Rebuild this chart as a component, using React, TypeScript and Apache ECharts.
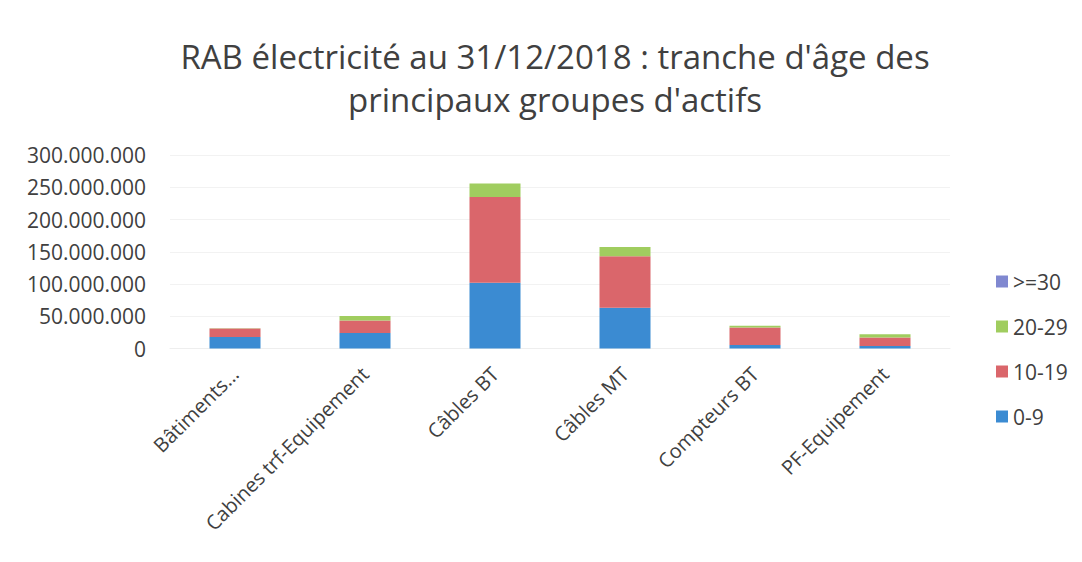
import React, { useEffect, useRef } from "react";
import * as echarts from "echarts";

const categories = [
  "Bâtiments...",
  "Cabines trf-Equipement",
  "Câbles BT",
  "Câbles MT",
  "Compteurs BT",
  "PF-Equipement",
];
const age0to9 = [18000000, 24000000, 102000000, 63000000, 5500000, 4000000];
const age10to19 = [13000000, 19500000, 133000000, 80000000, 27000000, 13000000];
const age20to29 = [500000, 6700000, 21000000, 14500000, 2600000, 5000000];
const age30plus = [0, 0, 0, 0, 0, 0];
const legendOrder = [">=30", "20-29", "10-19", "0-9"];
const yTicks = { min: 0, max: 300000000, interval: 50000000 };

const FONT = "'Open Sans', 'Noto Sans', sans-serif";

function fmt(v: number): string {
  return String(Math.round(v)).replace(/\B(?=(\d{3})+(?!\d))/g, ".");
}

export default function App() {
  const ref = useRef<HTMLDivElement>(null);
  useEffect(() => {
    if (!ref.current) return;
    const chart = echarts.init(ref.current, undefined, { renderer: "svg" });
    const barCommon = { type: "bar" as const, stack: "total", barWidth: 51 };
    chart.setOption({
      animation: false,
      backgroundColor: "#ffffff",
      title: {
        text: "RAB électricité au 31/12/2018 : tranche d'âge des\nprincipaux groupes d'actifs",
        left: 550,
        textAlign: "center",
        top: 30,
        textStyle: {
          fontFamily: FONT,
          fontSize: 33,
          fontWeight: "normal",
          color: "#404040",
          lineHeight: 43,
        },
      },
      legend: {
        orient: "vertical",
        left: 991,
        top: 266,
        itemWidth: 12,
        itemHeight: 12,
        itemGap: 24,
        icon: "rect",
        data: legendOrder,
        textStyle: { fontFamily: FONT, fontSize: 21, color: "#404040" },
      },
      grid: { left: 170, right: 132, top: 155, bottom: 213.5, containLabel: false },
      xAxis: {
        type: "category",
        data: categories,
        axisLine: { show: true, lineStyle: { color: "#eeeeee" } },
        axisTick: { show: false },
        axisLabel: {
          rotate: 45,
          interval: 0,
          margin: 22,
          fontFamily: FONT,
          fontSize: 20,
          color: "#404040",
        },
      },
      yAxis: {
        type: "value",
        min: yTicks.min,
        max: yTicks.max,
        interval: yTicks.interval,
        axisLine: { show: false },
        axisTick: { show: false },
        splitLine: { lineStyle: { color: "#f2f2f2" } },
        axisLabel: {
          formatter: (v: number) => fmt(v),
          margin: 24,
          fontFamily: FONT,
          fontSize: 21,
          color: "#404040",
        },
      },
      series: [
        { ...barCommon, name: "0-9", data: age0to9, itemStyle: { color: "#3b8bd2" } },
        { ...barCommon, name: "10-19", data: age10to19, itemStyle: { color: "#da666b" } },
        { ...barCommon, name: "20-29", data: age20to29, itemStyle: { color: "#a0cd5f" } },
        { ...barCommon, name: ">=30", data: age30plus, itemStyle: { color: "#8088d0" } },
      ],
    });
    return () => chart.dispose();
  }, []);
  return (
    <div
      ref={ref}
      style={{ position: "fixed", left: 0, top: 0, width: 1082, height: 562 }}
    />
  );
}
